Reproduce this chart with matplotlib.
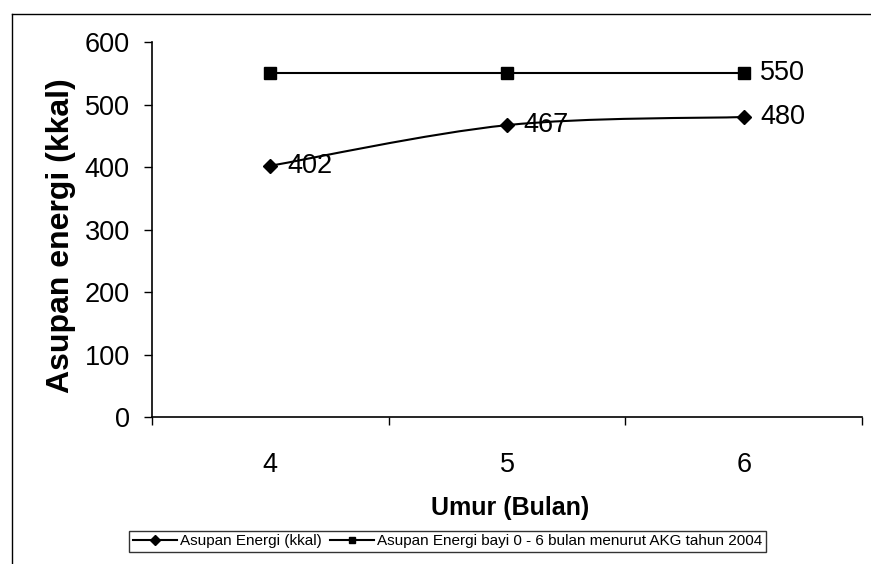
import matplotlib
matplotlib.use("Agg")
import matplotlib.pyplot as plt
from matplotlib.path import Path
from matplotlib.patches import PathPatch
from matplotlib.lines import Line2D
import numpy as np

plt.rcParams['font.family'] = ['Liberation Sans', 'DejaVu Sans']

categories = ['4', '5', '6']
asupan = [402, 467, 480]
akg = [550, 550, 550]
series1_label = 'Asupan Energi (kkal)'
series2_label = 'Asupan Energi bayi 0 - 6 bulan menurut AKG tahun 2004'
yticks = [0, 100, 200, 300, 400, 500, 600]

fig = plt.figure(figsize=(8.71, 5.64), dpi=100)
ax = fig.add_axes([0.1745, 0.2606, 0.8152, 0.6649])

x = np.arange(4, 4 + len(categories))

# smoothed line (Catmull-Rom style bezier through data points)
pts = np.column_stack([x, asupan]).astype(float)
verts = [tuple(pts[0])]
codes = [Path.MOVETO]
n = len(pts)
for i in range(n - 1):
    p0 = pts[i - 1] if i > 0 else pts[i]
    p1 = pts[i]
    p2 = pts[i + 1]
    p3 = pts[i + 2] if i + 2 < n else pts[i + 1]
    c1 = p1 + (p2 - p0) / 6.0
    c2 = p2 - (p3 - p1) / 6.0
    verts += [tuple(c1), tuple(c2), tuple(p2)]
    codes += [Path.CURVE4] * 3
ax.add_patch(PathPatch(Path(verts, codes), facecolor='none', edgecolor='black',
                       lw=1.5, transform=ax.transData, zorder=2))
ax.plot(x, asupan, linestyle='none', marker='D', ms=7, color='black', zorder=3)
ax.plot(x, akg, color='black', lw=1.5, marker='s', ms=8, zorder=3)

for xi, v in zip(x, asupan):
    ax.annotate(str(v), (xi, v), xytext=(12, 0), textcoords='offset points',
                ha='left', va='center', fontsize=19.5, color='black')
ax.annotate(str(akg[-1]), (x[-1], akg[-1]), xytext=(12, 0), textcoords='offset points',
            ha='left', va='center', fontsize=19.5, color='black')

ax.set_xlim(3.5, 6.5)
ax.set_ylim(0, 600)
ax.set_yticks(yticks)
ax.set_yticklabels([str(t) for t in yticks], fontsize=19.5)
ax.tick_params(axis='y', direction='out', length=6, width=1, pad=10)

ax.set_xticks([3.5, 4.5, 5.5, 6.5])
ax.set_xticklabels([])
ax.set_xticks(x, minor=True)
ax.set_xticklabels(categories, minor=True, fontsize=19.5)
ax.tick_params(axis='x', which='major', direction='out', length=6, width=1)
ax.tick_params(axis='x', which='minor', length=0, pad=25)

for s in ['top', 'right']:
    ax.spines[s].set_visible(False)
for s in ['left', 'bottom']:
    ax.spines[s].set_linewidth(1.2)
    ax.spines[s].set_color('black')

fig.text(0.070, 1 - 236 / 564, 'Asupan energi (kkal)', rotation=90, ha='center',
         va='center', fontsize=23, fontweight='bold')
fig.text(510 / 871, 1 - 508 / 564, 'Umur (Bulan)', ha='center', va='center',
         fontsize=18, fontweight='bold')

handles = [Line2D([], [], color='black', lw=1.5, marker='D', ms=5),
           Line2D([], [], color='black', lw=1.5, marker='s', ms=5)]
leg = fig.legend(handles, [series1_label, series2_label], loc='center',
                 bbox_to_anchor=(0.514, 0.040), ncol=2, fontsize=11,
                 frameon=True, fancybox=False, edgecolor='black',
                 handlelength=2.9, handletextpad=0.2, columnspacing=0.5,
                 borderpad=0.25, borderaxespad=0)
leg.get_frame().set_linewidth(1.0)

# outer chart frame (top and left edges visible in scan)
fig.add_artist(Line2D([12 / 871, 1.0], [1 - 14 / 564, 1 - 14 / 564],
                      transform=fig.transFigure, color='black', lw=1.0))
fig.add_artist(Line2D([12 / 871, 12 / 871], [0.0, 1 - 14 / 564],
                      transform=fig.transFigure, color='black', lw=1.0))

fig.savefig('out.png', dpi=100)
